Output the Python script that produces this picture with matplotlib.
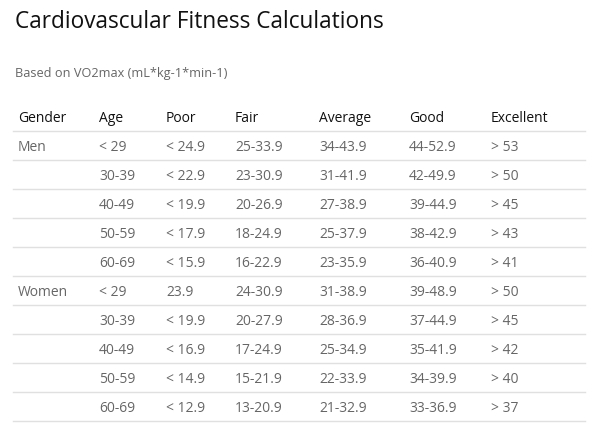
import matplotlib.pyplot as plt
from matplotlib.lines import Line2D

plt.rcParams['font.family'] = ['Open Sans', 'DejaVu Sans']

columns = ["Gender", "Age", "Poor", "Fair", "Average", "Good", "Excellent"]
gender = ["Men", "", "", "", "", "Women", "", "", "", ""]
age = ["< 29", "30-39", "40-49", "50-59", "60-69",
       "< 29", "30-39", "40-49", "50-59", "60-69"]
poor = ["< 24.9", "< 22.9", "< 19.9", "< 17.9", "< 15.9",
        "23.9", "< 19.9", "< 16.9", "< 14.9", "< 12.9"]
fair = ["25-33.9", "23-30.9", "20-26.9", "18-24.9", "16-22.9",
        "24-30.9", "20-27.9", "17-24.9", "15-21.9", "13-20.9"]
average = ["34-43.9", "31-41.9", "27-38.9", "25-37.9", "23-35.9",
           "31-38.9", "28-36.9", "25-34.9", "22-33.9", "21-32.9"]
good = ["44-52.9", "42-49.9", "39-44.9", "38-42.9", "36-40.9",
        "39-48.9", "37-44.9", "35-41.9", "34-39.9", "33-36.9"]
excellent = ["> 53", "> 50", "> 45", "> 43", "> 41",
             "> 50", "> 45", "> 42", "> 40", "> 37"]

W, H = 600, 436
fig = plt.figure(figsize=(W / 100, H / 100), dpi=100)
fig.patch.set_facecolor('white')

def px(x, y):
    return x / W, 1 - y / H

col_x = [18, 99, 166, 235, 319, 409, 491]

fig.text(*px(15, 19), "Cardiovascular Fitness Calculations", fontsize=16.3,
         color='#111111', va='center_baseline', ha='left')
fig.text(*px(15, 72), "Based on VO2max (mL*kg-1*min-1)", fontsize=9.2,
         color='#666666', va='center_baseline', ha='left')

# header
for cx, name in zip(col_x, columns):
    fig.text(*px(cx, 117), name, fontsize=10, color='#111111',
             va='center_baseline', ha='left')

row_h = 29
line_y0 = 131
rows = list(zip(gender, age, poor, fair, average, good, excellent))
for i, row in enumerate(rows):
    yc = line_y0 + row_h * i + row_h / 2
    for cx, val in zip(col_x, row):
        fig.text(*px(cx, yc), val, fontsize=10, color='#666666',
                 va='center_baseline', ha='left')

for i in range(len(rows) + 1):
    y = 1 - (line_y0 + row_h * i) / H
    fig.add_artist(Line2D([13 / W, 585 / W], [y, y], color='#e0e0e0', lw=1.0))

fig.savefig("out.png", dpi=100)
